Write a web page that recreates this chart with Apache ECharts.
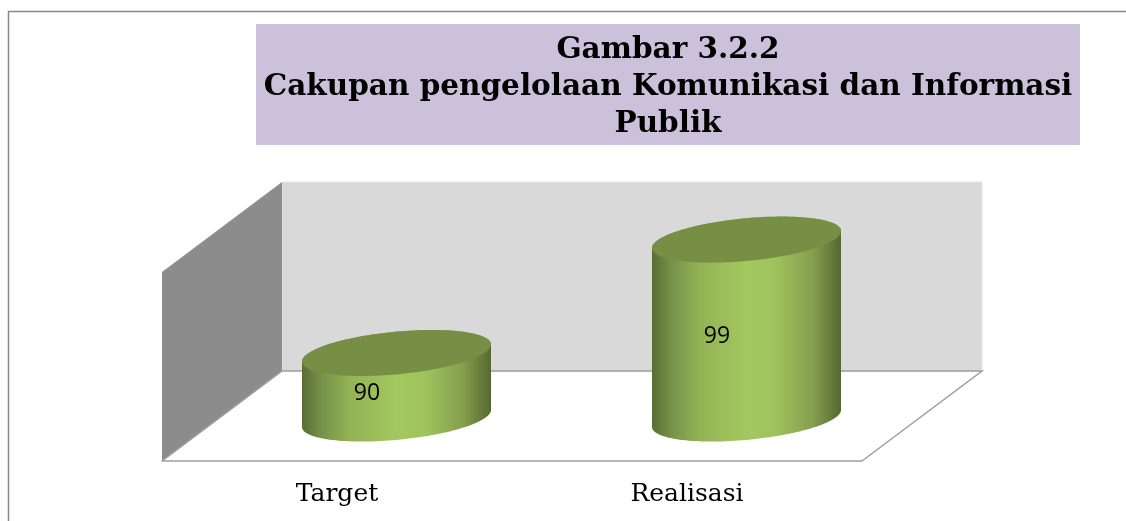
<!DOCTYPE html>
<html>
<head>
<meta charset="utf-8">
<style>html,body{margin:0;padding:0;background:#fff}#c{width:1126px;height:521px}</style>
<script src="https://cdn.jsdelivr.net/npm/echarts@6/dist/echarts.min.js"></script>
</head>
<body>
<div id="c"></div>
<script>
const categories = ['Target', 'Realisasi'];
const values = [90, 99];
const titleText = 'Gambar 3.2.2\nCakupan pengelolaan Komunikasi dan Informasi\nPublik';

const chart = echarts.init(document.getElementById('c'), null, {renderer: 'canvas'});

const bodyGradient = {
  type: 'linear', x: 0, y: 0, x2: 1, y2: 0,
  colorStops: [
    {offset: 0, color: '#5a6d33'},
    {offset: 0.1, color: '#76914a'},
    {offset: 0.25, color: '#93b255'},
    {offset: 0.5, color: '#a3c85f'},
    {offset: 0.65, color: '#a0c35d'},
    {offset: 0.85, color: '#869f4e'},
    {offset: 1, color: '#566830'}
  ]
};

function ellipsePoint(cx, cy, rx, t) {
  // Sheared ellipse: the tilted look of the chart's 3D view
  const shear = 0.09;
  const ry = rx * 0.2265;
  const x = rx * Math.cos(t);
  return [cx + x, cy + ry * Math.sin(t) - shear * x];
}

function renderCylinder(params, api) {
  const cat = api.value(0);
  const val = api.value(1);
  const top = api.coord([cat, val]);
  const floorY = params.coordSys.y + params.coordSys.height;
  const rx = api.size([1, 0])[0] * 0.27;
  const cx = top[0];
  const body = [];
  for (let i = 0; i <= 72; i++) body.push(ellipsePoint(cx, floorY, rx, Math.PI - Math.PI * i / 72));
  body.push(ellipsePoint(cx, top[1], rx, 0));
  for (let i = 0; i <= 72; i++) body.push(ellipsePoint(cx, top[1], rx, -Math.PI * i / 72));
  const lid = [];
  for (let i = 0; i < 144; i++) lid.push(ellipsePoint(cx, top[1], rx, 2 * Math.PI * i / 144));
  return {
    type: 'group',
    children: [
      {type: 'polygon', shape: {points: body}, style: {fill: bodyGradient}},
      {type: 'polygon', shape: {points: lid}, style: {fill: '#778f45'}},
      {type: 'text', x: cx - rx * 0.313, y: (top[1] + floorY) / 2 + 7.5,
        style: {text: String(val), fill: '#000', font: '23px "Open Sans"', align: 'center', verticalAlign: 'middle'}}
    ]
  };
}

chart.setOption({
  animation: false,
  backgroundColor: '#fff',
  title: {
    text: titleText, left: 663, top: 27, textAlign: 'center',
    textStyle: {fontFamily: '"DejaVu Serif"', fontWeight: 'bold', fontSize: 29.5, lineHeight: 37, color: '#000', align: 'center'}
  },
  grid: [
    {left: 221.5, width: 700, top: 227, height: 191.5},
    {left: 162, width: 700, top: 400, height: 61}
  ],
  xAxis: [
    {type: 'category', gridIndex: 0, data: categories, show: false},
    {type: 'category', gridIndex: 1, data: categories, z: 3,
      axisLine: {show: true, lineStyle: {color: '#9e9e9e', width: 1.5}},
      axisTick: {show: false},
      axisLabel: {color: '#000', fontFamily: '"DejaVu Serif"', fontSize: 25, margin: 21}}
  ],
  yAxis: [
    {type: 'value', gridIndex: 0, min: 84.8, max: 100, show: false},
    {type: 'value', gridIndex: 1, show: false}
  ],
  graphic: [
    {type: 'polyline', shape: {points: [[8.5, 521], [8.5, 11.5], [1126, 11.5]]}, style: {stroke: '#888', lineWidth: 1.5, fill: null}},
    {type: 'rect', shape: {x: 256, y: 24, width: 824, height: 121}, style: {fill: '#ccc1da'}},
    {type: 'polygon', shape: {points: [[282, 182], [982, 182], [982, 371], [282, 371]]}, style: {fill: '#d9d9d9', stroke: '#e4e4e4', lineWidth: 1}},
    {type: 'polygon', shape: {points: [[162, 272], [282, 182], [282, 371], [162, 461]]}, style: {fill: '#8c8c8c'}},
    {type: 'polyline', shape: {points: [[162, 461], [282, 371], [982, 371], [862, 461]]}, style: {stroke: '#9e9e9e', lineWidth: 1.5, fill: null}}
  ],
  series: [{
    type: 'custom',
    xAxisIndex: 0, yAxisIndex: 0,
    z: 5, silent: true,
    renderItem: renderCylinder,
    data: values.map((v, i) => [i, v]),
    encode: {x: 0, y: 1}
  }]
});
</script>
</body>
</html>
